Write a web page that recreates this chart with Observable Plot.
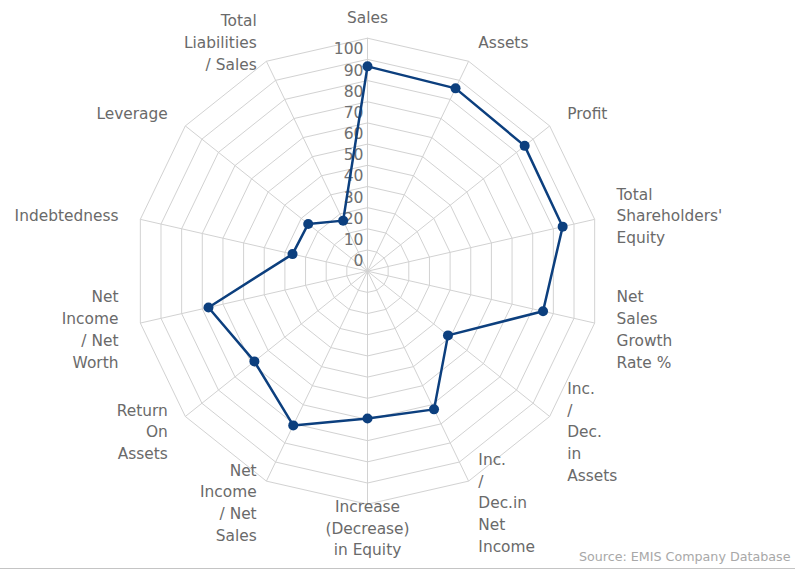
<!DOCTYPE html>
<html><head><meta charset="utf-8">
<script src="https://cdn.jsdelivr.net/npm/d3@7"></script>
<script src="https://cdn.jsdelivr.net/npm/@observablehq/plot@0.6"></script>
<style>
body{margin:0;background:#fff;}
#chart svg{display:block;}
#rule{width:795px;height:0;border-top:1px solid #c4c4c4;}
</style></head><body><div id="chart"></div><div id="rule"></div>
<script>
const categories = ["Sales","Assets","Profit","Total\nShareholders'\nEquity","Net\nSales\nGrowth\nRate %","Inc.\n/\nDec.\nin\nAssets","Inc.\n/\nDec.in\nNet\nIncome","Increase\n(Decrease)\nin Equity","Net\nIncome\n/ Net\nSales","Return\nOn\nAssets","Net\nIncome\n/ Net\nWorth","Indebtedness","Leverage","Total\nLiabilities\n/ Sales"];
const values = [96.7, 95.8, 94.9, 94.5, 85.0, 48.6, 72.4, 69.5, 80.8, 68.3, 77.0, 36.3, 35.8, 26.5];
const tickValues = [0,10,20,30,40,50,60,70,80,90,100];
const ringValues = [10,20,30,40,50,60,70,80,90,100,110];
const sourceText = "Source: EMIS Company Database";

const W = 795, H = 568, cx = 367, cy = 270.7, Rpx = 233, vmax = 110;
const k = Rpx / vmax;
const n = categories.length;
const ang = i => i * 2 * Math.PI / n;
const pt = (i, v) => ({x: v * Math.sin(ang(i)), y: v * Math.cos(ang(i))});
const series = values.map((v, i) => ({...pt(i, v), category: categories[i], value: v}));
const closed = [...series, series[0]];
const rings = ringValues.flatMap(r => d3.range(n + 1).map(i => ({ring: r, ...pt(i % n, r)})));
const spokes = categories.map((c, i) => ({c, ...pt(i, vmax)}));
const labelR = 120.6;
const labels = categories.map((c, i) => {
  const s = Math.sin(ang(i));
  return {text: c, ...pt(i, labelR), anchor: Math.abs(s) < 0.01 ? "middle" : s > 0 ? "start" : "end"};
});
const labelStyle = {x: "x", y: "y", text: "text", lineAnchor: "middle", lineHeight: 1.41, fill: "#6a6a6a", fontSize: 15.4};

const chart = Plot.plot({
  width: W, height: H, margin: 0,
  x: {domain: [-cx / k, (W - cx) / k], axis: null},
  y: {domain: [-(H - cy) / k, cy / k], axis: null},
  style: {fontFamily: "DejaVu Sans", background: "#fff"},
  marks: [
    Plot.line(rings, {x: "x", y: "y", z: "ring", stroke: "#d2d2d2", strokeWidth: 1}),
    Plot.link(spokes, {x1: 0, y1: 0, x2: "x", y2: "y", stroke: "#d2d2d2", strokeWidth: 1}),
    Plot.text(tickValues, {x: 0, y: d => d, text: d => String(d), textAnchor: "end", dx: -4, dy: -10, fill: "#707070", fontSize: 15.6}),
    Plot.line(closed, {x: "x", y: "y", stroke: "#0c3f7e", strokeWidth: 2.5}),
    Plot.dot(series, {x: "x", y: "y", r: 5, fill: "#0c3f7e"}),
    Plot.text(labels.filter(d => d.anchor === "start"), {...labelStyle, textAnchor: "start"}),
    Plot.text(labels.filter(d => d.anchor === "end"), {...labelStyle, textAnchor: "end"}),
    Plot.text(labels.filter(d => d.anchor === "middle"), {...labelStyle, textAnchor: "middle"}),
    Plot.text([sourceText], {frameAnchor: "bottom-right", text: d => d, dx: -5, dy: -12, lineAnchor: "middle", textAnchor: "end", fill: "#a8a8a8", fontSize: 12.7})
  ]
});
document.getElementById("chart").appendChild(chart);
</script></body></html>
